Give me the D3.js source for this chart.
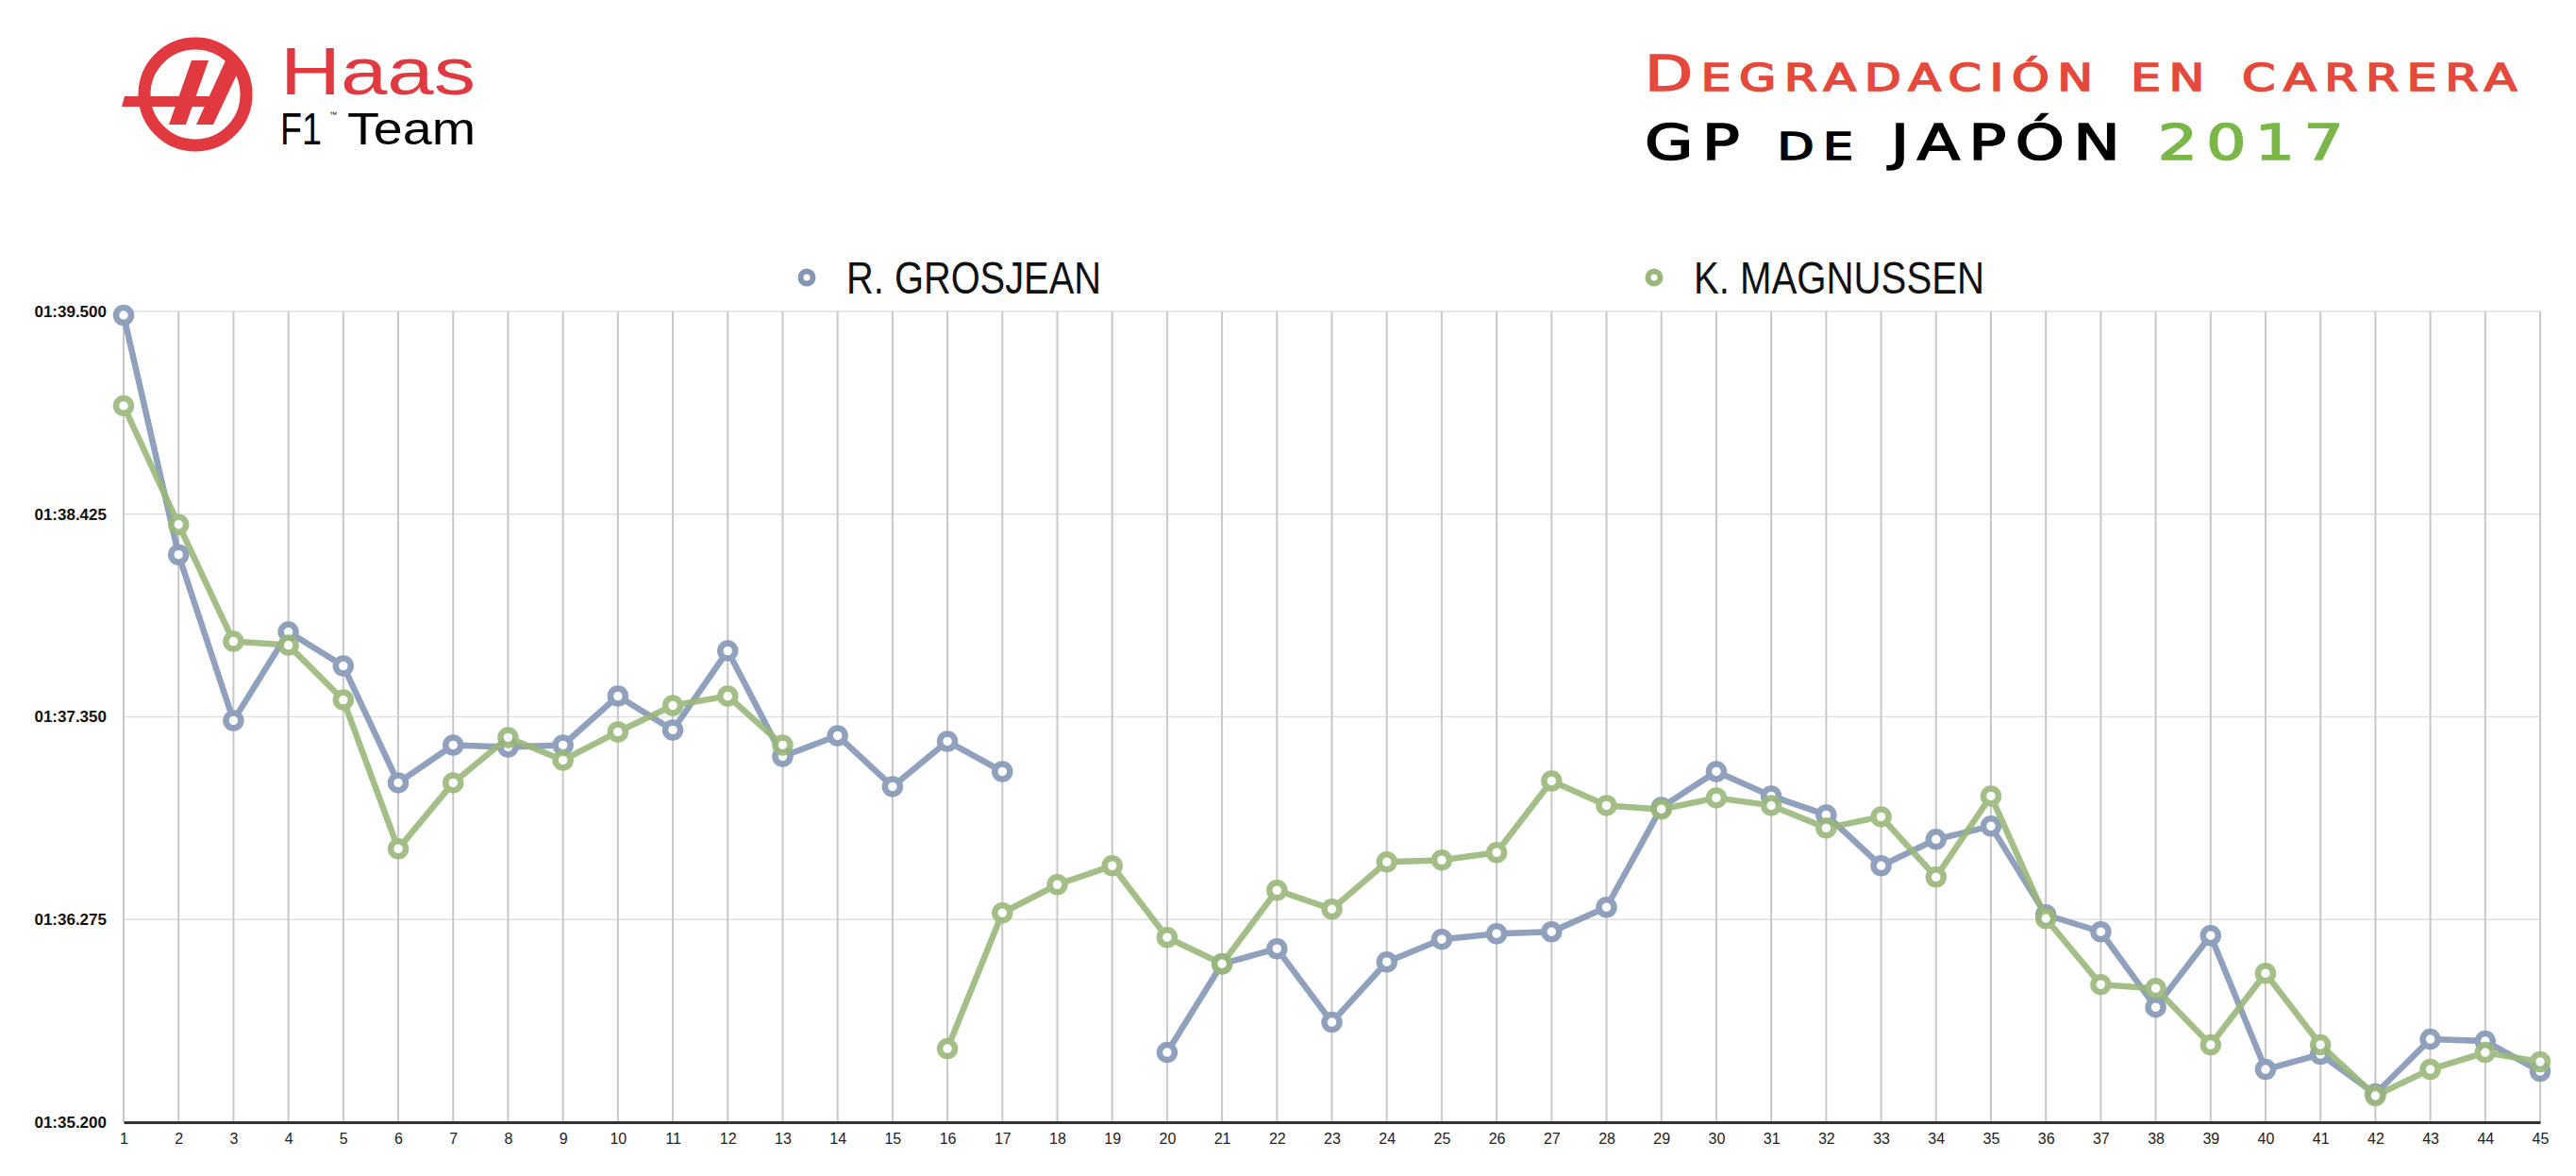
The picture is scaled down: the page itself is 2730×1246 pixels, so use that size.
<!DOCTYPE html>
<html>
<head>
<meta charset="utf-8">
<script src="https://cdn.jsdelivr.net/npm/d3@7"></script>
<style>
  html, body { margin: 0; padding: 0; background: #ffffff; }
  svg { display: block; }
</style>
</head>
<body>
<svg id="chart" width="2730" height="1246"></svg>
<script>
// ---------------- DATA ----------------
const laps = [1,2,3,4,5,6,7,8,9,10,11,12,13,14,15,16,17,18,19,20,21,22,23,24,25,26,27,28,29,30,31,32,33,34,35,36,37,38,39,40,41,42,43,44,45];
const seriesNames = ["R. GROSJEAN", "K. MAGNUSSEN"];
// lap times in seconds (null = no time shown)
const grosjean = [99.48, 98.21, 97.33, 97.80, 97.62, 97.00, 97.20, 97.19, 97.20, 97.46, 97.28, 97.70, 97.14, 97.25, 96.98, 97.22, 97.06, null, null,
  95.57, 96.04, 96.12, 95.73, 96.05, 96.17, 96.20, 96.21, 96.34, 96.87, 97.06, 96.93, 96.83, 96.56, 96.70, 96.77, 96.30, 96.21, 95.81, 96.19,
  95.48, 95.56, 95.35, 95.64, 95.63, 95.47];
const magnussen = [99.00, 98.37, 97.75, 97.73, 97.44, 96.65, 97.00, 97.24, 97.12, 97.27, 97.41, 97.46, 97.20, null, null,
  95.59, 96.31, 96.46, 96.56, 96.18, 96.04, 96.43, 96.33, 96.58, 96.59, 96.63, 97.01, 96.88, 96.86, 96.92, 96.88, 96.76, 96.82, 96.50, 96.93,
  96.28, 95.93, 95.91, 95.61, 95.99, 95.61, 95.34, 95.48, 95.57, 95.52];
const yTicks = [95.2, 96.275, 97.35, 98.425, 99.5];
const titleLine1 = ["D", "egradación en carrera"];
const titleLine2 = ["GP ", "de", " JAPÓN ", "2017"];

// ---------------- SETUP ----------------
const svg = d3.select("#chart");
const colors = ["#8397b5", "#9ab879"];
const series = [grosjean, magnussen];

const x = d3.scaleLinear().domain([1, 45]).range([131, 2692]);
const y = d3.scaleLinear().domain([95.2, 99.5]).range([1189, 330]);

function fmt(v) {
  const m = Math.floor(v / 60);
  const s = v - m * 60;
  return String(m).padStart(2, "0") + ":" + s.toFixed(3).padStart(6, "0");
}

// horizontal gridlines
svg.append("g").selectAll("line").data(yTicks.slice(1)).join("line")
  .attr("x1", x(1)).attr("x2", x(45))
  .attr("y1", d => y(d)).attr("y2", d => y(d))
  .attr("stroke", "#e0e0e0").attr("stroke-width", 1.5);

// vertical gridlines
svg.append("g").selectAll("line").data(laps).join("line")
  .attr("x1", d => x(d)).attr("x2", d => x(d))
  .attr("y1", y(99.5)).attr("y2", y(95.2))
  .attr("stroke", "#c8c8c8").attr("stroke-width", 2);

// y axis labels
const yAxis = d3.axisLeft(y).tickValues(yTicks).tickFormat(fmt).tickSize(0).tickPadding(18);
const gy = svg.append("g").attr("transform", `translate(${x(1)},0)`).call(yAxis);
gy.select(".domain").remove();
gy.selectAll("text")
  .attr("font-family", "'Liberation Sans', Arial, Helvetica, sans-serif")
  .attr("font-weight", "bold").attr("font-size", 17).attr("fill", "#111");

// x axis
const xAxis = d3.axisBottom(x).tickValues(laps).tickFormat(d3.format("d")).tickSize(0).tickPadding(12);
const gx = svg.append("g").attr("transform", `translate(0,${y(95.2)})`).call(xAxis);
gx.select(".domain").attr("stroke", "#333").attr("stroke-width", 3);
gx.selectAll("text")
  .attr("font-family", "'Liberation Sans', Arial, Helvetica, sans-serif")
  .attr("font-size", 16).attr("fill", "#222");

// lines + markers
const line = d3.line().defined(d => d.v != null).x(d => x(d.lap)).y(d => y(d.v));
series.forEach((vals, i) => {
  const pts = laps.map((lap, j) => ({ lap, v: vals[j] }));
  const g = svg.append("g").attr("opacity", 0.9);
  g.append("path").datum(pts).attr("d", line)
    .attr("fill", "none").attr("stroke", colors[i]).attr("stroke-width", 6.5)
    .attr("stroke-linejoin", "round");
  g.selectAll("circle").data(pts.filter(d => d.v != null)).join("circle")
    .attr("cx", d => x(d.lap)).attr("cy", d => y(d.v)).attr("r", 8)
    .attr("fill", "#fff").attr("stroke", colors[i]).attr("stroke-width", 6.5);
});

// legend
const legendX = [855, 1753];
seriesNames.forEach((name, i) => {
  svg.append("circle").attr("cx", legendX[i]).attr("cy", 294).attr("r", 6.5)
    .attr("fill", "#fff").attr("stroke", colors[i]).attr("stroke-width", 6);
  svg.append("text").attr("x", legendX[i] + 42).attr("y", 294).attr("dy", "0.36em")
    .attr("font-family", "'Liberation Sans Narrow', 'Arial Narrow', 'Liberation Sans', sans-serif")
    .attr("font-size", 48).attr("fill", "#111")
    .attr("textLength", i === 0 ? 270 : 308).attr("lengthAdjust", "spacingAndGlyphs")
    .text(name);
});

// title (wide small-caps lettering)
const tfont = "'DejaVu Sans', 'Liberation Sans', sans-serif";
function titleText(yPos, parts, styles, width, stretch) {
  const t = svg.append("text").attr("x", 1743).attr("y", yPos)
    .attr("font-family", tfont).attr("font-weight", "normal");
  parts.forEach((s, i) => {
    const ts = t.append("tspan").text(s)
      .attr("font-size", styles[i].size).attr("fill", styles[i].color)
      .attr("stroke", styles[i].color).attr("stroke-width", 1.6);
    if (styles[i].caps) ts.style("font-variant", "small-caps");
  });
  const node = t.node();
  const w0 = node.getComputedTextLength();
  const n = node.getNumberOfChars();
  const ls = (width / stretch - w0) / n;
  t.attr("letter-spacing", ls);
  t.attr("textLength", width).attr("lengthAdjust", "spacingAndGlyphs");
  return t;
}
const red1 = "#e5493c";
titleText(96, titleLine1, [
  { size: 51, color: red1 },
  { size: 55, color: red1, caps: true }
], 933, 1.3);
titleText(169, titleLine2, [
  { size: 51, color: "#000" },
  { size: 55, color: "#000", caps: true },
  { size: 51, color: "#000" },
  { size: 51, color: "#7ab648" }
], 750, 1.3);

// logo
const logo = svg.append("g");
const red = "#e03a40";
logo.append("circle").attr("cx", 207).attr("cy", 100).attr("r", 54)
  .attr("fill", "none").attr("stroke", red).attr("stroke-width", 13);
logo.append("path").attr("fill", red)
  .attr("d", "M132,102 L236,102 L232,113 L129,113 Z");
logo.append("path").attr("fill", red)
  .attr("d", "M203,64 L221,64 L197,132 L179,132 Z");
logo.append("path").attr("fill", red)
  .attr("d", "M240,62 L257,66 L226,132 L208,132 Z");
const lf = "'Liberation Sans', Arial, sans-serif";
logo.append("text").attr("x", 297).attr("y", 100)
  .attr("font-family", lf).attr("font-size", 70)
  .attr("fill", red).attr("textLength", 207).attr("lengthAdjust", "spacingAndGlyphs")
  .text("Haas");
logo.append("text").attr("x", 297).attr("y", 153)
  .attr("font-family", lf).attr("font-size", 48).attr("fill", "#000")
  .attr("textLength", 44).attr("lengthAdjust", "spacingAndGlyphs").text("F1");
logo.append("text").attr("x", 349).attr("y", 124)
  .attr("font-family", lf).attr("font-size", 8).attr("fill", "#000").text("™");
logo.append("text").attr("x", 368).attr("y", 153)
  .attr("font-family", lf).attr("font-size", 48).attr("fill", "#000")
  .attr("textLength", 136).attr("lengthAdjust", "spacingAndGlyphs").text("Team");
</script>
</body>
</html>
